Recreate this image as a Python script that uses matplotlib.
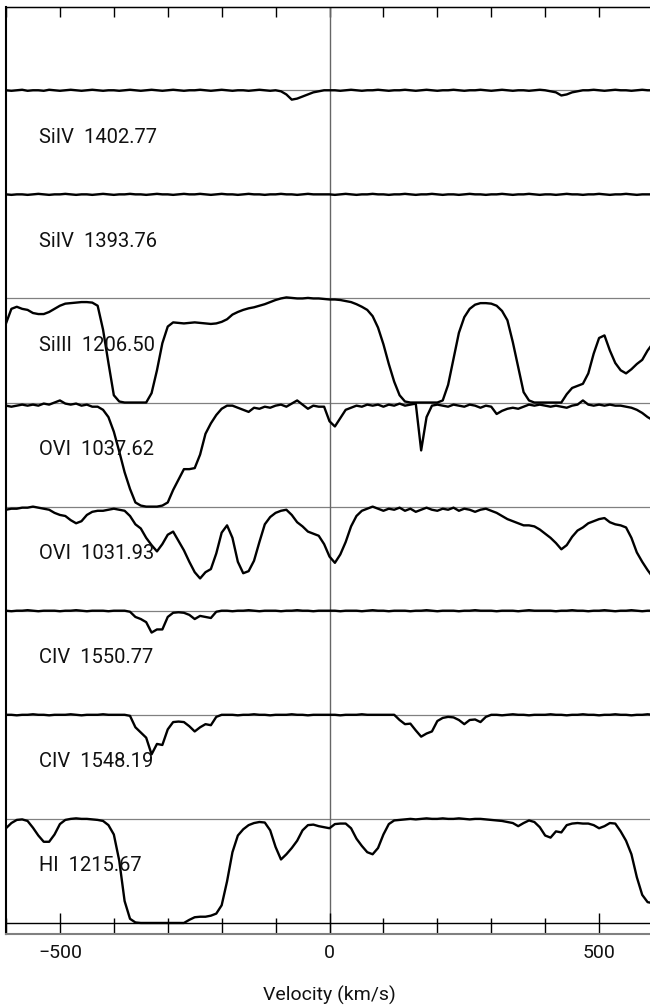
import numpy as np
import matplotlib
matplotlib.use("Agg")
import matplotlib.pyplot as plt
from matplotlib.ticker import MultipleLocator

plt.rcParams['font.family'] = ['Roboto', 'DejaVu Sans']

# velocity grid of the normalised spectra (km/s)
velocity = np.arange(-600, 601, 10)

# panel names, top to bottom
lines = ["SiIV  1402.77", "SiIV  1393.76", "SiIII  1206.50", "OVI  1037.62",
         "OVI  1031.93", "CIV  1550.77", "CIV  1548.19", "HI  1215.67"]

siiv_1402 = [
    1.00, 0.995, 1.00, 1.005, 0.995, 1.00, 1.00, 0.995, 1.005, 1.00,
    0.995, 1.00, 1.005, 1.00, 0.995, 1.00, 1.005, 1.00, 0.995, 1.00,
    1.00, 0.995, 1.00, 1.005, 1.00, 0.995, 1.00, 1.005, 1.00, 0.995,
    1.00, 1.005, 1.00, 0.995, 1.00, 1.00, 1.005, 1.00, 0.995, 1.00,
    1.005, 1.00, 0.995, 1.00, 1.00, 0.995, 1.00, 1.005, 1.00, 0.995,
    1.00, 0.99, 0.96, 0.91, 0.92, 0.94, 0.96, 0.98, 0.99, 1.00,
    1.00, 1.00, 0.995, 1.00, 1.005, 1.00, 0.995, 1.00, 1.00, 1.005,
    1.00, 0.995, 1.00, 1.00, 1.005, 1.00, 0.995, 1.00, 1.005, 1.00,
    0.995, 1.00, 1.00, 1.005, 1.00, 0.995, 1.00, 1.00, 1.005, 1.00,
    0.995, 1.00, 1.005, 1.00, 0.995, 1.00, 1.00, 0.995, 1.00, 1.005,
    1.00, 0.99, 0.98, 0.95, 0.96, 0.98, 0.99, 1.00, 1.00, 1.005,
    1.00, 0.995, 1.00, 1.005, 1.00, 1.00, 0.995, 1.00, 1.005, 1.00,
    1.00]

siiv_1393 = [
    1.00, 0.995, 1.00, 1.00, 0.995, 1.00, 1.005, 1.00, 0.995, 1.00,
    1.00, 1.005, 1.00, 0.995, 1.00, 1.00, 0.995, 1.00, 1.005, 1.00,
    0.995, 1.00, 1.00, 1.005, 1.00, 1.00, 0.995, 1.00, 1.005, 1.00,
    1.00, 0.995, 1.00, 1.005, 1.00, 1.00, 1.005, 1.00, 0.995, 1.00,
    1.005, 1.00, 1.00, 0.995, 1.00, 1.005, 1.00, 1.00, 0.995, 1.00,
    1.00, 1.005, 1.00, 1.00, 0.995, 1.00, 1.005, 1.00, 1.00, 1.00,
    1.00, 0.995, 1.00, 1.005, 1.00, 0.995, 1.00, 1.00, 1.005, 1.00,
    1.00, 0.995, 1.00, 1.00, 1.005, 1.00, 0.995, 1.00, 1.00, 1.005,
    1.00, 0.995, 1.00, 1.00, 0.995, 1.00, 1.005, 1.00, 1.00, 0.995,
    1.00, 1.00, 1.005, 1.00, 0.995, 1.00, 1.00, 1.005, 1.00, 0.995,
    1.00, 1.00, 0.995, 1.00, 1.005, 1.00, 1.00, 0.995, 1.00, 1.00,
    1.005, 1.00, 0.995, 1.00, 1.00, 1.005, 1.00, 0.995, 1.00, 1.00,
    1.00]

siiii_1206 = [
    0.76, 0.90, 0.92, 0.90, 0.89, 0.86, 0.85, 0.85, 0.87, 0.90,
    0.93, 0.95, 0.955, 0.96, 0.965, 0.965, 0.96, 0.93, 0.70, 0.38,
    0.07, 0.01, 0.00, 0.00, 0.00, 0.00, 0.00, 0.09, 0.31, 0.57,
    0.73, 0.77, 0.765, 0.76, 0.765, 0.77, 0.765, 0.76, 0.755, 0.76,
    0.775, 0.80, 0.845, 0.87, 0.89, 0.905, 0.915, 0.93, 0.945, 0.965,
    0.985, 1.00, 1.01, 1.005, 1.00, 1.00, 1.005, 1.00, 1.00, 0.995,
    0.99, 0.99, 0.985, 0.975, 0.965, 0.945, 0.92, 0.89, 0.83, 0.72,
    0.56, 0.37, 0.20, 0.07, 0.01, 0.00, 0.00, 0.00, 0.00, 0.00,
    0.00, 0.02, 0.17, 0.42, 0.67, 0.82, 0.90, 0.94, 0.955, 0.955,
    0.95, 0.93, 0.88, 0.79, 0.58, 0.34, 0.10, 0.02, 0.00, 0.00,
    0.00, 0.00, 0.00, 0.00, 0.08, 0.14, 0.16, 0.18, 0.28, 0.47,
    0.62, 0.645, 0.50, 0.38, 0.31, 0.28, 0.32, 0.37, 0.41, 0.50,
    0.57]

ovi_1037 = [
    0.97, 0.96, 0.97, 0.98, 0.97, 0.98, 0.97, 0.99, 0.98, 1.00,
    1.02, 0.99, 0.98, 0.99, 0.97, 0.98, 0.96, 0.96, 0.93, 0.86,
    0.72, 0.53, 0.33, 0.17, 0.04, 0.01, 0.00, 0.00, 0.00, 0.01,
    0.04, 0.16, 0.26, 0.36, 0.36, 0.37, 0.50, 0.70, 0.80, 0.88,
    0.94, 0.97, 0.97, 0.95, 0.93, 0.91, 0.95, 0.94, 0.96, 0.95,
    0.97, 0.98, 0.96, 0.99, 1.02, 0.98, 0.94, 0.97, 0.96, 0.96,
    0.82, 0.77, 0.85, 0.93, 0.95, 0.97, 0.96, 0.98, 0.97, 0.98,
    0.96, 0.98, 0.97, 0.99, 0.97, 0.98, 0.99, 0.54, 0.86, 0.97,
    0.98, 0.97, 0.96, 0.98, 0.97, 0.96, 0.98, 0.97, 0.95, 0.97,
    0.96, 0.89, 0.92, 0.94, 0.95, 0.94, 0.96, 0.98, 0.97, 0.98,
    0.97, 0.96, 0.97, 0.96, 0.95, 0.97, 0.98, 1.02, 0.98, 0.97,
    0.98, 0.97, 0.98, 0.97, 0.97, 0.96, 0.95, 0.93, 0.90, 0.86,
    0.83]

ovi_1031 = [
    0.97, 0.98, 0.98, 0.99, 0.99, 1.00, 0.99, 0.98, 0.97, 0.94,
    0.92, 0.91, 0.87, 0.84, 0.86, 0.92, 0.95, 0.96, 0.96, 0.97,
    0.98, 0.97, 0.96, 0.91, 0.83, 0.79, 0.70, 0.63, 0.57, 0.64,
    0.73, 0.76, 0.67, 0.58, 0.47, 0.37, 0.31, 0.37, 0.40, 0.55,
    0.75, 0.82, 0.70, 0.47, 0.36, 0.38, 0.48, 0.66, 0.83, 0.90,
    0.94, 0.96, 0.97, 0.92, 0.85, 0.81, 0.76, 0.74, 0.72, 0.64,
    0.52, 0.46, 0.54, 0.66, 0.81, 0.91, 0.96, 0.98, 1.00, 0.98,
    0.96, 0.98, 0.97, 0.99, 0.96, 0.98, 0.95, 0.97, 0.99, 0.97,
    0.96, 0.98, 0.97, 0.99, 0.96, 0.98, 0.97, 0.95, 0.97, 0.98,
    0.96, 0.94, 0.91, 0.88, 0.86, 0.84, 0.82, 0.82, 0.81, 0.78,
    0.74, 0.70, 0.65, 0.59, 0.63, 0.71, 0.77, 0.80, 0.84, 0.86,
    0.88, 0.89, 0.85, 0.83, 0.82, 0.80, 0.70, 0.56, 0.47, 0.39,
    0.32]

civ_1550 = [
    1.00, 0.995, 1.00, 1.00, 1.005, 1.00, 0.995, 1.00, 1.00, 1.00,
    0.995, 1.00, 1.00, 1.005, 1.00, 0.995, 1.00, 1.00, 1.00, 0.995,
    1.00, 1.00, 1.00, 0.99, 0.94, 0.92, 0.89, 0.79, 0.82, 0.82,
    0.94, 0.98, 0.985, 0.98, 0.96, 0.92, 0.95, 0.94, 0.93, 0.99,
    1.00, 1.00, 0.995, 1.00, 1.00, 1.005, 1.00, 0.995, 1.00, 1.00,
    1.00, 0.995, 1.00, 1.00, 1.005, 1.00, 1.00, 0.995, 1.00, 1.00,
    1.00, 1.00, 0.995, 1.00, 1.00, 1.00, 0.995, 1.00, 1.005, 1.00,
    1.00, 0.995, 1.00, 1.00, 1.00, 0.995, 1.00, 1.00, 1.005, 1.00,
    0.995, 1.00, 1.00, 1.00, 0.995, 1.00, 1.00, 1.005, 1.00, 1.00,
    1.00, 0.995, 1.00, 1.00, 1.00, 0.995, 1.00, 1.005, 1.00, 1.00,
    1.00, 1.00, 0.995, 1.00, 1.00, 1.005, 1.00, 1.00, 0.995, 1.00,
    1.00, 1.005, 1.00, 0.995, 1.00, 1.00, 1.005, 1.00, 0.995, 1.00,
    1.00]

civ_1548 = [
    1.00, 1.00, 0.995, 1.00, 1.00, 1.005, 1.00, 1.00, 0.995, 1.00,
    1.00, 1.00, 1.005, 1.00, 0.995, 1.00, 1.00, 1.00, 1.005, 1.00,
    1.00, 1.00, 1.00, 0.99, 0.88, 0.83, 0.78, 0.62, 0.72, 0.71,
    0.86, 0.93, 0.935, 0.93, 0.89, 0.84, 0.88, 0.91, 0.90, 0.98,
    1.00, 1.00, 1.00, 0.995, 1.00, 1.00, 1.005, 1.00, 1.00, 0.995,
    1.00, 1.00, 1.00, 1.005, 1.00, 1.00, 0.995, 1.00, 1.00, 1.00,
    1.00, 1.00, 0.995, 1.00, 1.00, 1.00, 1.005, 1.00, 1.00, 1.00,
    1.00, 1.00, 1.00, 0.95, 0.91, 0.915, 0.85, 0.79, 0.82, 0.84,
    0.94, 0.97, 0.98, 0.975, 0.95, 0.91, 0.95, 0.955, 0.93, 0.98,
    1.00, 1.00, 0.995, 1.00, 1.005, 1.00, 1.00, 0.995, 1.00, 1.00,
    1.00, 1.005, 1.00, 1.00, 0.995, 1.00, 1.00, 1.005, 1.00, 1.00,
    0.995, 1.00, 1.00, 1.005, 1.00, 1.00, 0.995, 1.00, 1.00, 1.005,
    1.00]

hi_1215 = [
    0.91, 0.96, 0.99, 0.995, 0.98, 0.915, 0.84, 0.78, 0.78, 0.85,
    0.95, 0.99, 1.00, 1.005, 1.00, 1.00, 0.995, 0.99, 0.98, 0.94,
    0.85, 0.60, 0.21, 0.04, 0.005, 0.00, 0.00, 0.00, 0.00, 0.00,
    0.00, 0.00, 0.00, 0.00, 0.03, 0.055, 0.06, 0.06, 0.07, 0.09,
    0.17, 0.40, 0.68, 0.84, 0.90, 0.94, 0.96, 0.97, 0.965, 0.89,
    0.73, 0.61, 0.66, 0.72, 0.79, 0.89, 0.94, 0.945, 0.93, 0.92,
    0.91, 0.95, 0.955, 0.955, 0.91, 0.81, 0.74, 0.68, 0.66, 0.72,
    0.85, 0.95, 0.985, 0.99, 0.995, 1.00, 0.995, 1.00, 1.005, 1.00,
    1.00, 1.005, 1.00, 1.00, 1.005, 1.00, 0.995, 1.00, 1.00, 0.995,
    0.99, 0.985, 0.98, 0.97, 0.96, 0.93, 0.96, 0.985, 0.97, 0.92,
    0.84, 0.82, 0.88, 0.87, 0.94, 0.955, 0.96, 0.955, 0.955, 0.94,
    0.91, 0.93, 0.96, 0.955, 0.88, 0.79, 0.66, 0.44, 0.27, 0.20,
    0.19]

spectra = [siiv_1402, siiv_1393, siiii_1206, ovi_1037,
           ovi_1031, civ_1550, civ_1548, hi_1215]

fig = plt.figure(figsize=(6.5, 10.05), dpi=100)
ax = fig.add_axes([6 / 650, 71 / 1005, 647 / 650, 927 / 1005])

n = len(spectra)
for i, (name, flux) in enumerate(zip(lines, spectra)):
    off = n - 1 - i   # stack panels downward, HI at the bottom
    ax.axhline(off + 1, color='0.5', lw=0.9, zorder=1)
    ax.plot(velocity, np.array(flux) + off, color='k', lw=1.7, zorder=3)
    ax.text(-539, off + 0.55, name, fontsize=14.5, color='#111111',
            ha='left', va='center', zorder=4)

ax.axhline(0, color='k', lw=1, zorder=2)
ax.axvline(0, color='0.4', lw=1, zorder=1)

ax.set_xlim(-600, 600)
ax.set_ylim(-0.106, 8.80)
ax.set_yticks([])

ax.xaxis.set_major_locator(MultipleLocator(500))
ax.xaxis.set_minor_locator(MultipleLocator(100))
ax.tick_params(axis='x', which='major', direction='in', length=15, width=1,
               labelsize=14, pad=7, top=False, labelcolor='#111111')
ax.tick_params(axis='x', which='minor', direction='in', length=11.5, width=1,
               top=False)

top = ax.secondary_xaxis('top')
top.xaxis.set_major_locator(MultipleLocator(500))
top.xaxis.set_minor_locator(MultipleLocator(100))
top.tick_params(which='both', direction='in', length=7, width=1, labeltop=False)

ax.spines['bottom'].set_color('0.5')
ax.spines['bottom'].set_linewidth(1.5)
ax.spines['left'].set_linewidth(1.5)
ax.spines['top'].set_linewidth(1)

ax.set_xlabel("Velocity (km/s)", fontsize=14, color='#111111', labelpad=17)

fig.savefig("out.png", dpi=100)
